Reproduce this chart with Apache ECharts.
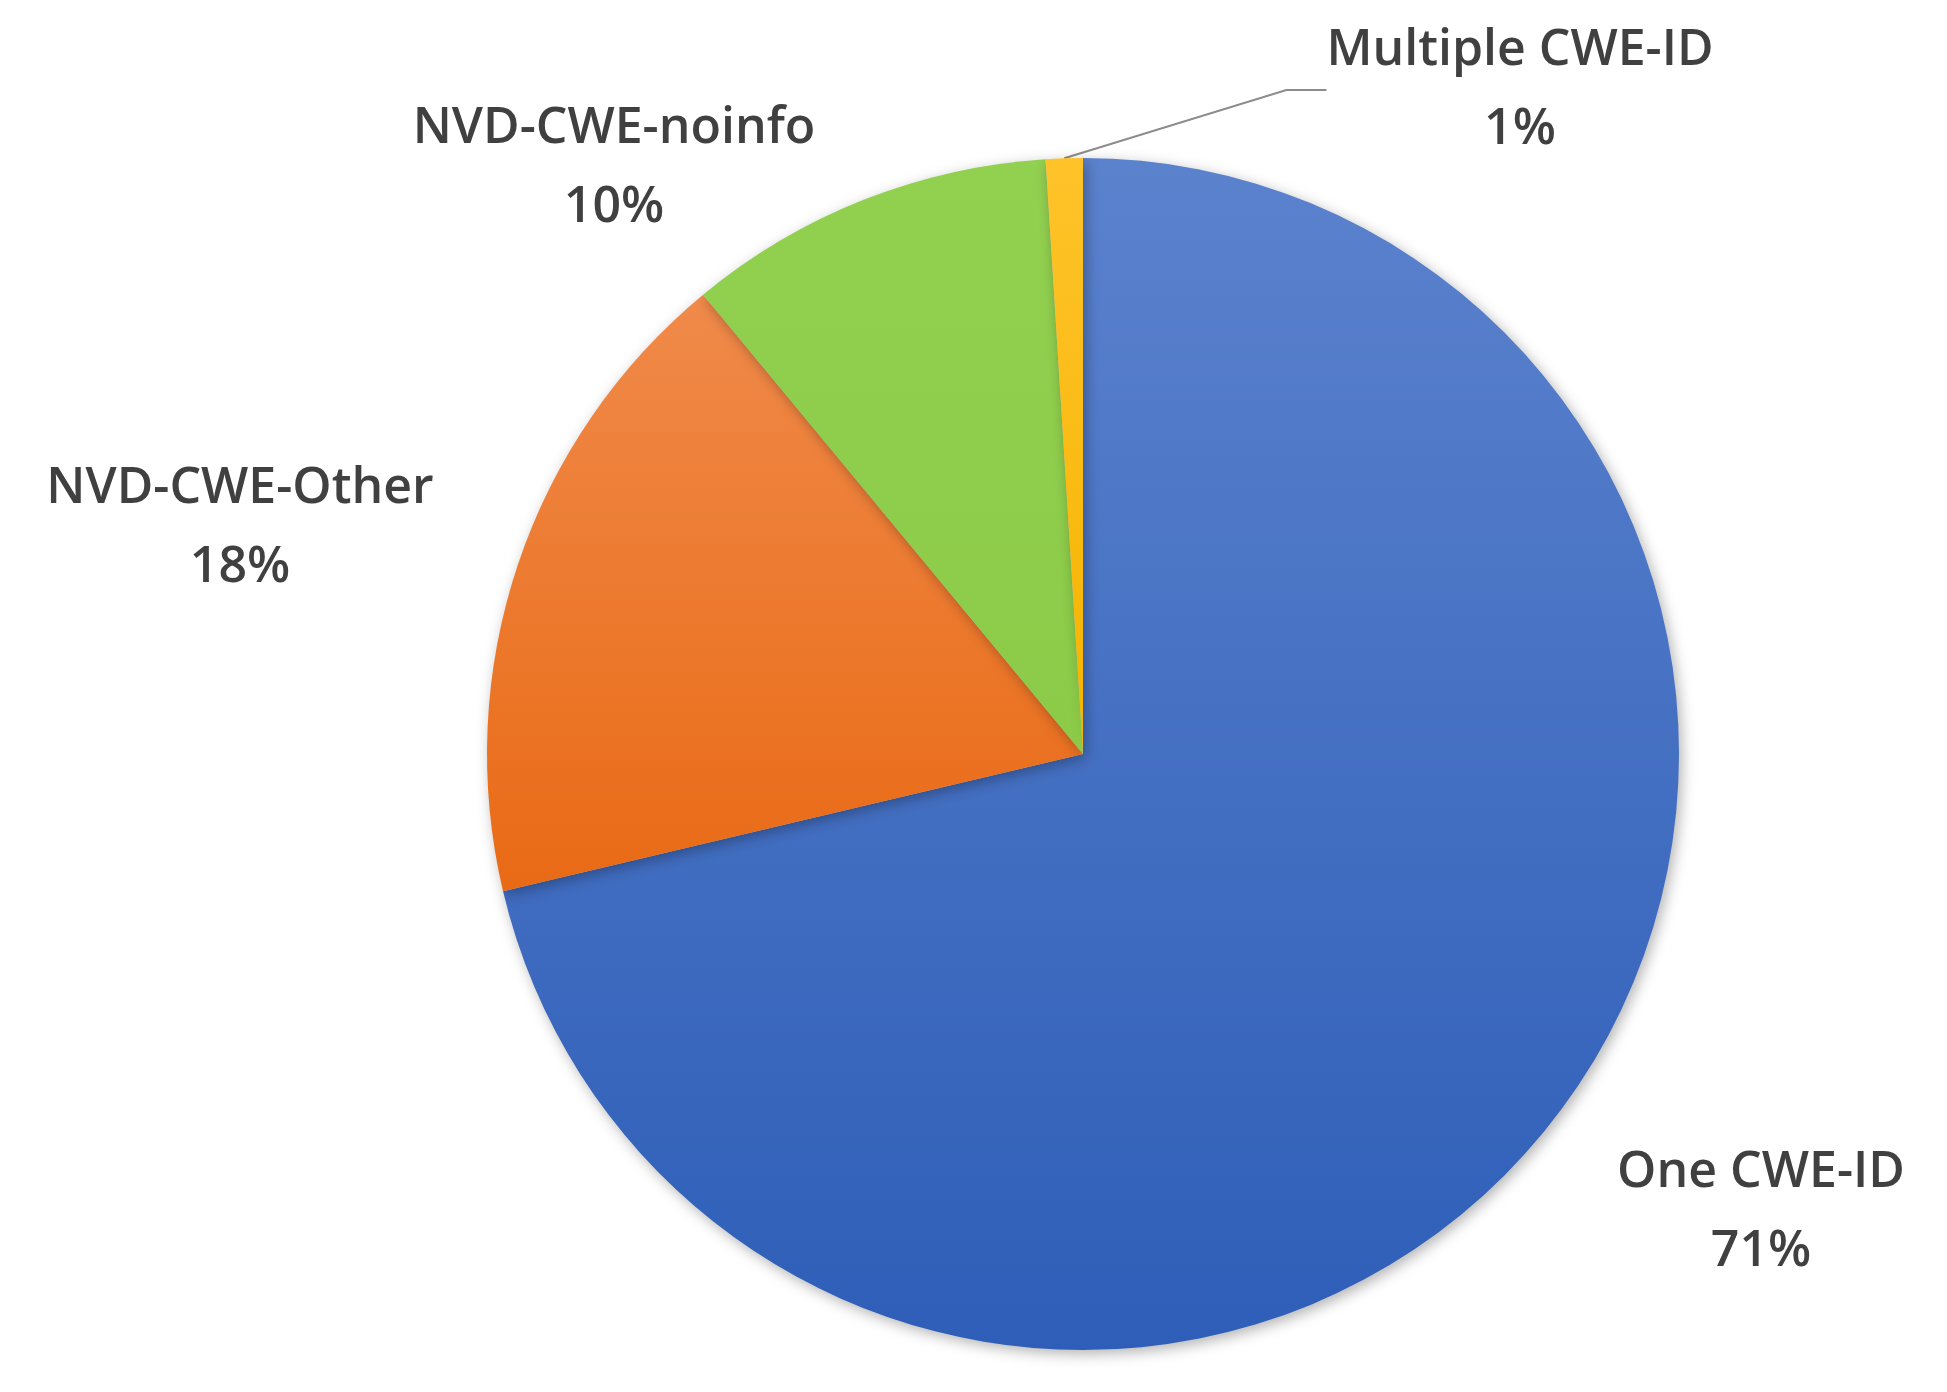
<!DOCTYPE html>
<html><head><meta charset="utf-8">
<script src="https://cdn.jsdelivr.net/npm/echarts@6/dist/echarts.min.js"></script>
<style>html,body{margin:0;background:#fff}#c{width:1947px;height:1392px}</style>
</head><body><div id="c"></div>
<script>
const categories = ['One CWE-ID', 'NVD-CWE-Other', 'NVD-CWE-noinfo', 'Multiple CWE-ID'];
const values = [71.3, 17.7, 10.0, 1.0];
const colorsTop = ['#5b82cd', '#f08a4a', '#92d050', '#ffc32a'];
const colorsBottom = ['#2e5eb8', '#e96a15', '#8ccb48', '#f5b400'];
const labelPos = [[1761, 1212], [240, 528], [614, 168], [1520, 90]];

const chart = echarts.init(document.getElementById('c'));
chart.setOption({
  animation: false,
  series: [{
    type: 'pie',
    center: [1083, 754],
    radius: [0, 596],
    startAngle: 90,
    clockwise: true,
    data: categories.map((n, i) => ({
      name: n, value: values[i],
      itemStyle: {
        color: new echarts.graphic.LinearGradient(0, 0, 0, 1, [
          {offset: 0, color: colorsTop[i]}, {offset: 1, color: colorsBottom[i]}])
      },
      labelLine: {show: i === 3, length: 40, length2: 40,
        lineStyle: {color: '#8c8c8c', width: 2}}
    })),
    itemStyle: {shadowBlur: 14, shadowColor: 'rgba(0,0,0,0.3)', shadowOffsetX: 3, shadowOffsetY: 4},
    label: {
      show: true, position: 'outside',
      formatter: p => p.name + '\n' + Math.round(p.value) + '%',
      fontFamily: 'Open Sans', fontWeight: 600, fontSize: 50, lineHeight: 79,
      color: '#404040', align: 'center'
    },
    labelLayout: p => ({x: labelPos[p.dataIndex][0], y: labelPos[p.dataIndex][1],
      align: 'center', verticalAlign: 'middle'})
  }]
});
</script></body></html>
